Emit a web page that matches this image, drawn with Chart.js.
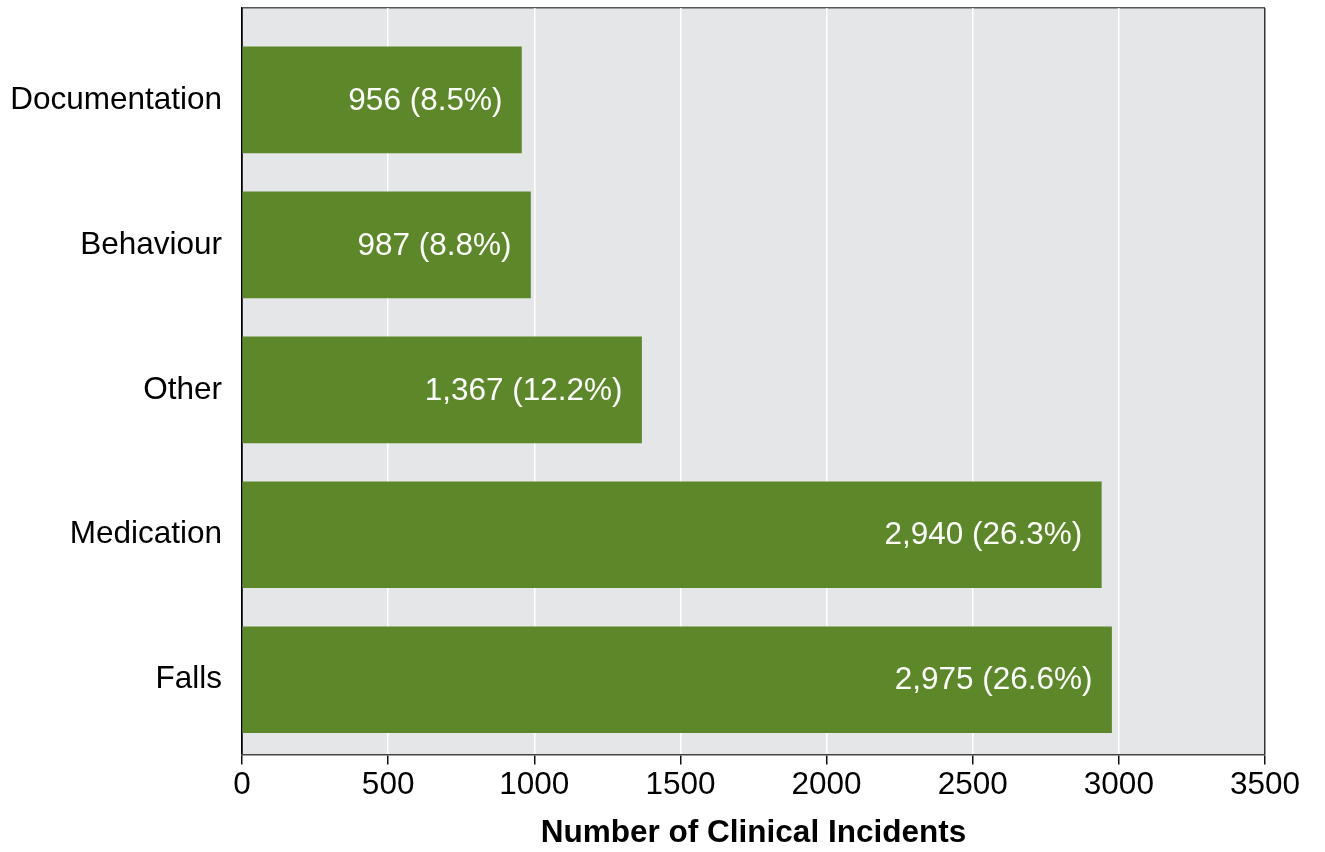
<!DOCTYPE html>
<html>
<head>
<meta charset="utf-8">
<script src="https://cdn.jsdelivr.net/npm/chart.js@4/dist/chart.umd.min.js"></script>
<style>
  html, body { margin: 0; padding: 0; background: #ffffff; }
  #wrap { width: 1325px; height: 852px; }
</style>
</head>
<body>
<div id="wrap"><canvas id="c" width="1325" height="852"></canvas></div>
<script>
// ---- data ----
const categories = ["Documentation", "Behaviour", "Other", "Medication", "Falls"];
const incidents = [956, 987, 1367, 2940, 2975];
const percents = [8.5, 8.8, 12.2, 26.3, 26.6];
const xTicks = [0, 500, 1000, 1500, 2000, 2500, 3000, 3500];
const xTitle = "Number of Clinical Incidents";

const FONT = "'Liberation Sans', Arial, Helvetica, sans-serif";
const GREEN = "#5d8829";
const FS = 31.5;

const points = categories.map((c, i) => ({ x: incidents[i], y: i }));

const plotBg = {
  id: 'plotBg',
  beforeDraw(chart) {
    const { ctx, chartArea: a } = chart;
    ctx.save();
    ctx.fillStyle = '#e5e6e8';
    ctx.fillRect(a.left, a.top, a.right - a.left, a.bottom - a.top);
    ctx.restore();
  }
};

const valueLabels = {
  id: 'valueLabels',
  afterDatasetsDraw(chart) {
    const { ctx } = chart;
    const meta = chart.getDatasetMeta(0);
    ctx.save();
    ctx.fillStyle = '#ffffff';
    ctx.font = FS + 'px ' + FONT;
    ctx.textAlign = 'right';
    ctx.textBaseline = 'middle';
    meta.data.forEach((bar, i) => {
      const txt = incidents[i].toLocaleString('en-US') + ' (' + percents[i].toFixed(1) + '%)';
      ctx.fillText(txt, bar.x - 19, bar.y + 1);
    });
    ctx.restore();
  }
};

const yMin = -0.634, yMax = 4.515;

new Chart(document.getElementById('c'), {
  type: 'bar',
  data: {
    datasets: [{
      data: points,
      backgroundColor: GREEN,
      borderWidth: 0,
      barThickness: 106
    }]
  },
  plugins: [plotBg, valueLabels],
  options: {
    indexAxis: 'y',
    responsive: false,
    animation: false,
    devicePixelRatio: 1,
    layout: { padding: { left: 0, top: 8, right: 60, bottom: 0 } },
    plugins: { legend: { display: false }, tooltip: { enabled: false } },
    scales: {
      y: {
        type: 'linear',
        reverse: true,
        offset: false,
        min: yMin,
        max: yMax,
        afterFit(scale) { scale.width = 242; scale.paddingTop = 0; scale.paddingBottom = 0; },
        ticks: {
          stepSize: 1,
          includeBounds: true,
          autoSkip: false,
          padding: 20,
          color: '#000000',
          font: { family: FONT, size: FS },
          callback(v) {
            return Number.isInteger(v) && categories[v] !== undefined ? categories[v] : '';
          }
        },
        grid: {
          offset: false,
          drawTicks: false,
          color(ctx) { return ctx.tick && Math.abs(ctx.tick.value - yMin) < 1e-6 ? '#555555' : 'rgba(0,0,0,0)'; },
          lineWidth: 1.5
        },
        border: { display: true, color: '#000000', width: 1.5 }
      },
      x: {
        type: 'linear',
        min: xTicks[0],
        max: xTicks[xTicks.length - 1],
        afterBuildTicks(scale) { scale.ticks = xTicks.map(v => ({ value: v })); },
        ticks: {
          padding: 2,
          color: '#000000',
          font: { family: FONT, size: FS },
          maxRotation: 0,
          callback(v) { return String(v); }
        },
        grid: {
          tickLength: 10,
          tickColor: '#111111',
          tickWidth: 1.5,
          lineWidth: 1.5,
          color(ctx) {
            const v = ctx.tick ? ctx.tick.value : null;
            if (v === xTicks[xTicks.length - 1]) return '#333333';
            if (v === xTicks[0]) return '#000000';
            return '#ffffff';
          }
        },
        border: { display: true, color: '#444444', width: 1.5 },
        title: {
          display: true,
          text: xTitle,
          color: '#000000',
          font: { family: FONT, size: FS, weight: 'bold' },
          padding: { top: 8, bottom: 0 }
        }
      }
    }
  }
});
</script>
</body>
</html>
